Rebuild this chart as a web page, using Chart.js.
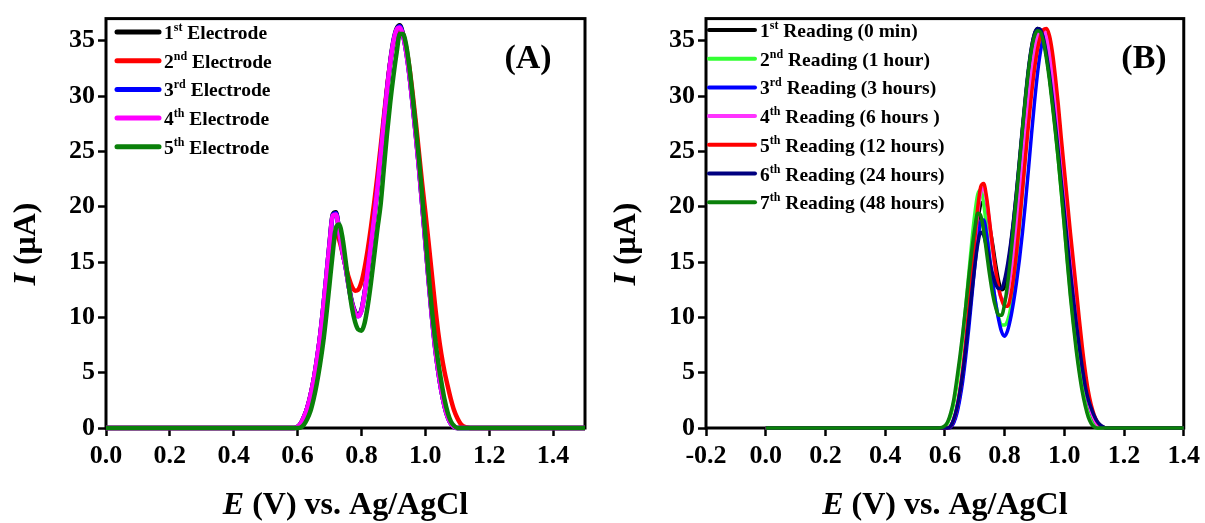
<!DOCTYPE html>
<html><head><meta charset="utf-8">
<script src="https://cdn.jsdelivr.net/npm/chart.js@4"></script>
<style>
html,body{margin:0;padding:0;background:#fff;width:1205px;height:523px;overflow:hidden}
#chartA{position:absolute;left:0;top:0}
#chartB{position:absolute;left:600px;top:0}
</style></head><body>
<canvas id="chartA" width="600" height="523"></canvas>
<canvas id="chartB" width="605" height="523"></canvas>
<script>
// ---------- DATA ----------
const potential = [0.58,0.59,0.60,0.61,0.62,0.63,0.64,0.65,0.66,0.67,0.68,0.69,0.70,0.71,0.72,0.73,0.74,0.75,0.76,0.77,0.78,0.79,0.80,0.81,0.82,0.83,0.84,0.85,0.86,0.87,0.88,0.89,0.90,0.91,0.92,0.93,0.94,0.95,0.96,0.97,0.98,0.99,1.00,1.01,1.02,1.03,1.04,1.05,1.06,1.07,1.08,1.09,1.10,1.11,1.12,1.13,1.14,1.15];
const scanStartA = 0.0, scanEndA = 1.5;
const scanStartB = 0.0, scanEndB = 1.4;

// Panel A: five electrodes
const electrode1 = [0,0,0.1,0.4,1.0,1.8,2.9,4.3,6.1,8.2, 10.8,13.7,16.7,19.3,19.5,17.9,16.1,14.6,12.9,11.4, 10.5,10.2,10.7,12.3,14.3,16.6,19.1,21.8,24.7,27.7, 30.6,33.1,35.0,36.1,36.4,35.6,34.1,32.0,29.4,26.6, 23.6,20.3,16.9,13.5,10.3,7.5,5.2,3.4,2.0,1.0, 0.4,0.1,0,0,0,0,0,0];
const electrode2 = [0,0,0.1,0.4,1.0,1.8,2.9,4.3,6.0,8.1, 10.5,13.0,15.3,17.0,17.6,17.0,15.9,14.7,13.6,12.8, 12.4,12.5,13.2,14.5,16.2,18.2,20.4,22.8,25.4,28.1, 30.7,33.0,34.7,35.7,36.0,35.6,34.4,32.6,30.3,27.7, 24.9,22.1,19.5,16.8,14.0,11.2,8.7,6.7,5.1,3.8, 2.6,1.6,0.9,0.4,0.15,0.05,0,0];
const electrode3 = [0,0,0.1,0.4,1.0,1.8,2.9,4.3,6.1,8.2, 10.8,13.7,16.6,19.2,19.4,17.9,16.0,14.6,12.8,11.3, 10.4,10.1,10.6,12.2,14.3,16.6,19.0,21.7,24.6,27.6, 30.5,33.0,34.9,36.0,36.3,35.5,34.0,31.9,29.3,26.5, 23.5,20.2,16.8,13.4,10.2,7.4,5.2,3.4,2.0,1.0, 0.4,0.1,0,0,0,0,0,0];
const electrode4 = [0,0,0.1,0.4,1.0,1.8,2.9,4.3,6.1,8.2, 10.8,13.7,16.6,19.2,19.3,17.8,16.0,14.6,12.8,11.3, 10.4,10.1,10.6,12.2,14.3,16.6,19.0,21.7,24.6,27.6, 30.5,33.0,34.9,36.0,36.2,35.5,34.0,31.9,29.3,26.5, 23.5,20.2,16.8,13.4,10.2,7.4,5.2,3.4,2.0,1.0, 0.4,0.1,0,0,0,0,0,0];
const electrode5 = [0,0,0,0.05,0.3,0.8,1.5,2.6,4.0,5.7, 7.7,10.2,13.0,15.8,18.1,18.4,17.3,15.2,12.9,10.9, 9.6,8.9,8.8,9.5,11.1,13.2,15.6,18.0,20.2,23.4, 26.6,29.4,31.8,33.9,35.6,35.6,34.6,32.6,30.0,27.2, 24.3,21.0,17.5,14.0,10.8,8.2,6.0,4.2,2.6,1.4, 0.6,0.2,0,0,0,0,0,0];

// Panel B: seven readings
const reading1 = [0,0,0,0,0.1,0.6,1.5,2.9,4.8,7.2, 10.0,13.0,16.0,18.6,20.2,20.4,19.6,18.2,16.6,14.8, 13.3,12.5,12.8,14.2,16.3,18.7,21.3,24.1,27.0,29.8, 32.3,34.3,35.6,36.1,36.0,35.2,33.7,31.8,29.6,27.1, 24.5,21.7,18.8,16.0,13.3,10.8,8.5,6.5,4.7,3.2, 2.0,1.2,0.6,0.3,0.1,0,0,0];
const reading2 = [0,0,0.1,0.5,1.2,2.3,3.9,5.9,8.3,11.0, 13.9,16.8,19.3,21.1,21.5,20.3,18.0,15.5,13.2,11.3, 10.0,9.3,9.3,9.7,10.8,12.8,15.4,18.4,21.6,25.0, 28.4,31.4,33.8,35.2,35.8,35.3,33.9,31.9,29.5,26.9, 24.2,21.3,18.3,15.2,12.3,9.7,7.4,5.4,3.7,2.3, 1.3,0.6,0.2,0,0,0,0,0];
const reading3 = [0,0,0,0,0.1,0.5,1.3,2.6,4.3,6.5, 9.0,11.8,14.6,17.0,18.6,18.8,17.4,15.3,13.2,11.3, 9.8,8.7,8.3,8.8,9.9,11.4,13.2,15.3,17.7,20.4, 23.4,26.5,29.4,32.0,34.0,35.3,35.6,34.8,33.0,30.6, 27.8,24.8,21.7,18.6,15.6,12.8,10.2,7.9,5.8,4.1, 2.7,1.6,0.9,0.4,0.15,0.05,0,0];
const reading4 = [0,0,0,0,0.2,0.8,1.8,3.3,5.2,7.6, 10.4,13.5,16.6,19.4,21.3,21.7,20.5,18.4,16.1,14.0, 12.5,11.7,11.6,12.3,13.9,16.0,18.5,21.3,24.2,27.1, 29.9,32.2,34.0,35.3,35.9,36.0,35.4,34.0,32.0,29.6, 26.9,24.0,21.0,18.0,15.1,12.4,9.9,7.6,5.6,3.9, 2.5,1.5,0.8,0.35,0.1,0,0,0];
const reading5 = [0,0,0,0,0.2,0.8,1.8,3.3,5.3,7.8, 10.7,13.8,17.0,19.9,21.8,22.1,20.8,18.6,16.3,14.3, 12.7,11.6,11.0,11.0,11.9,13.6,15.9,18.6,21.5,24.5, 27.4,30.1,32.4,34.2,35.4,36.0,36.1,35.5,34.0,31.8, 29.2,26.2,23.4,20.6,17.8,15.2,12.6,9.9,7.4,5.2, 3.4,2.1,1.2,0.6,0.25,0.08,0,0];
const reading6 = [0,0,0,0,0.2,0.8,1.8,3.2,5.0,7.2, 9.7,12.2,14.6,16.6,17.7,17.4,16.3,15.0,13.9,13.0, 12.6,12.6,13.4,14.8,16.6,18.8,21.4,24.3,27.2,30.0, 32.5,34.4,35.6,36.1,36.0,35.2,33.8,32.0,29.8,27.4, 24.9,22.2,19.5,16.8,14.2,11.8,9.5,7.4,5.5,3.8, 2.6,1.8,1.1,0.6,0.3,0.1,0,0];
const reading7 = [0,0.05,0.2,0.6,1.4,2.6,4.4,6.4,8.6,11.0, 13.6,16.0,18.0,19.4,19.2,17.8,15.8,13.8,12.1,10.9, 10.2,10.2,11.2,13.0,15.4,18.1,21.0,24.0,27.0,29.8, 32.3,34.2,35.4,35.9,35.8,34.9,33.4,31.5,29.2,26.8, 24.2,21.3,18.2,15.0,12.0,9.4,7.0,5.0,3.3,2.0, 1.0,0.4,0.1,0,0,0,0,0];

// Tick labels
const xTicksA = [0.0,0.2,0.4,0.6,0.8,1.0,1.2,1.4];
const xTicksB = [-0.2,0.0,0.2,0.4,0.6,0.8,1.0,1.2,1.4];
const yTicks = [0,5,10,15,20,25,30,35];

// Legend labels: [number, superscript, rest]
const legendA = [['1','st',' Electrode'],['2','nd',' Electrode'],['3','rd',' Electrode'],['4','th',' Electrode'],['5','th',' Electrode']];
const legendB = [['1','st',' Reading (0 min)'],['2','nd',' Reading (1 hour)'],['3','rd',' Reading (3 hours)'],['4','th',' Reading (6 hours )'],['5','th',' Reading (12 hours)'],['6','th',' Reading (24 hours)'],['7','th',' Reading (48 hours)']];
const colorsA = ['#000000','#ff0000','#0000ff','#ff00ff','#0a800a'];
const colorsB = ['#000000','#33ff33','#0000ff','#ff33ff','#ff0000','#000080','#0a800a'];

// ---------- BUILD ----------
const SERIF = '"Liberation Serif", "Times New Roman", serif';
function toPoints(vals, x0, x1) {
  const pts = [{x:x0, y:0}];
  potential.forEach((e,i) => pts.push({x:e, y:vals[i]}));
  pts.push({x:x1, y:0});
  return pts;
}
function drawRuns(ctx, runs, x, y, align) {
  let total = 0;
  runs.forEach(r => { ctx.font = r.font; total += ctx.measureText(r.text).width; });
  let cx = align === 'center' ? x - total/2 : x;
  ctx.textAlign = 'left'; ctx.textBaseline = 'alphabetic';
  runs.forEach(r => { ctx.font = r.font; ctx.fillText(r.text, cx, y + (r.dy||0)); cx += ctx.measureText(r.text).width; });
}
function makePlugin(cfg) {
  return {
    id: 'decor',
    beforeDatasetsDraw(chart) {
      const {ctx, chartArea:a} = chart;
      ctx.save(); ctx.lineWidth = 3; ctx.strokeStyle = '#000';
      ctx.strokeRect(a.left, a.top, a.right - a.left, a.bottom - a.top);
      ctx.restore();
    },
    afterDraw(chart) {
      const {ctx, chartArea:a} = chart;
      ctx.save();
      ctx.fillStyle = '#000';
      drawRuns(ctx, [
        {text:'E', font:'italic bold 32px ' + SERIF},
        {text:' (V) vs. Ag/AgCl', font:'bold 32px ' + SERIF}
      ], (a.left + a.right)/2, 514, 'center');
      ctx.save();
      ctx.translate(35, 244); ctx.rotate(-Math.PI/2);
      drawRuns(ctx, [
        {text:'I', font:'italic bold 32px ' + SERIF},
        {text:' (\u03bcA)', font:'bold 32px ' + SERIF}
      ], 0, 0, 'center');
      ctx.restore();
      ctx.font = 'bold 34px ' + SERIF; ctx.textAlign = 'center'; ctx.textBaseline = 'alphabetic';
      ctx.fillText(cfg.panel, cfg.panelX, 68);
      cfg.legend.forEach((L, i) => {
        const y = cfg.legY0 + i * cfg.legDy;
        ctx.beginPath(); ctx.strokeStyle = cfg.colors[i]; ctx.lineWidth = cfg.legLW; ctx.lineCap = 'round';
        ctx.moveTo(cfg.legX1, y); ctx.lineTo(cfg.legX2, y); ctx.stroke();
        ctx.fillStyle = '#000';
        drawRuns(ctx, [
          {text:L[0], font:'bold 19.5px ' + SERIF},
          {text:L[1], font:'bold 12px ' + SERIF, dy:-8},
          {text:L[2], font:'bold 19.5px ' + SERIF}
        ], cfg.legX2 + 5, y + 7, 'left');
      });
      ctx.restore();
    }
  };
}
function makeChart(id, series, colors, x0, x1, xmin, xmax, xTicks, rightPad, lw, pluginCfg) {
  const n = series.length;
  const datasets = series.map((s, i) => ({
    data: toPoints(s, x0, x1), borderColor: colors[i], borderWidth: lw,
    pointRadius: 0, cubicInterpolationMode: 'monotone', fill: false,
    order: n - i, clip: 6
  }));
  const tickFont = {family: SERIF, weight: 'bold', size: 26};
  return new Chart(document.getElementById(id), {
    type: 'line',
    data: {datasets},
    options: {
      responsive: false, animation: false,
      layout: {padding: {left: 0, right: rightPad, top: 14, bottom: 0}},
      plugins: {legend: {display: false}, tooltip: {enabled: false}},
      scales: {
        x: {
          type: 'linear', min: xmin, max: xmax,
          afterBuildTicks: s => { s.ticks = xTicks.map(v => ({value: v})); },
          afterFit: s => { s.height = 95; },
          grid: {display: true, drawOnChartArea: false, drawTicks: true, tickLength: 8, tickWidth: 2.5, tickColor: '#000'},
          border: {display: false},
          ticks: {font: tickFont, color: '#000', padding: 5, maxRotation: 0, autoSkip: false,
                  callback: v => Number(v).toFixed(1)}
        },
        y: {
          type: 'linear', min: 0, max: 37,
          afterBuildTicks: s => { s.ticks = yTicks.map(v => ({value: v})); },
          afterFit: s => { s.width = 106; },
          grid: {display: true, drawOnChartArea: false, drawTicks: true, tickLength: 8, tickWidth: 2.5, tickColor: '#000'},
          border: {display: false},
          ticks: {font: tickFont, color: '#000', padding: 3, autoSkip: false, callback: v => String(v)}
        }
      }
    },
    plugins: [makePlugin(pluginCfg)]
  });
}

makeChart('chartA', [electrode1, electrode2, electrode3, electrode4, electrode5], colorsA,
  scanStartA, scanEndA, 0, 1.5, xTicksA, 15, 4.5,
  {panel:'(A)', panelX:528, legend:legendA, colors:colorsA, legY0:32, legDy:28.7, legX1:117, legX2:159, legLW:5});
makeChart('chartB', [reading1, reading2, reading3, reading4, reading5, reading6, reading7], colorsB,
  scanStartB, scanEndB, -0.2, 1.4, xTicksB, 20, 3.5,
  {panel:'(B)', panelX:544, legend:legendB, colors:colorsB, legY0:30, legDy:28.7, legX1:109, legX2:155, legLW:4});
</script>
</body></html>
